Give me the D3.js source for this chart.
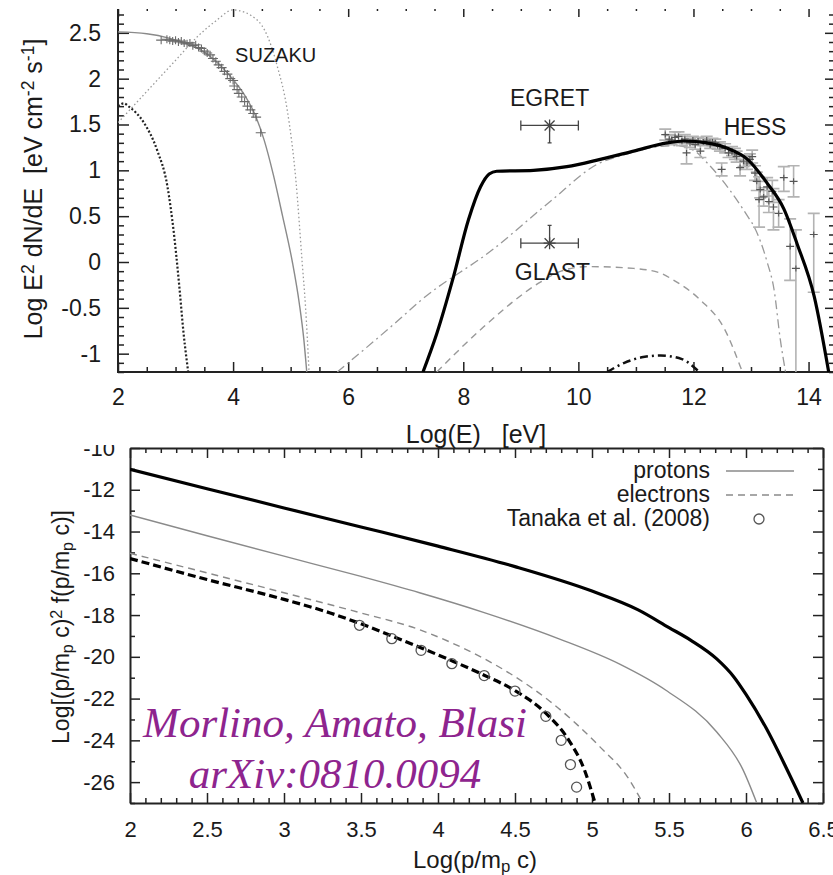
<!DOCTYPE html>
<html>
<head>
<meta charset="utf-8">
<script src="https://cdn.jsdelivr.net/npm/d3@7"></script>
<style>
body { margin: 0; background: #fff; }
svg { display: block; }
text { font-family: "Liberation Sans", Arial, Helvetica, sans-serif; fill: #1a1a1a; }
</style>
</head>
<body>
<svg id="chart" width="833" height="875"></svg>
<script>
//////////////////// Data: top panel (Log E vs Log E^2 dN/dE) ////////////////////

// synchrotron, thin gray solid
var syncE = [2, 2.5, 2.9, 3.2, 3.5, 3.8, 4.0, 4.2, 4.4, 4.54, 4.7, 4.86, 5.03, 5.15, 5.23, 5.28];
var syncF = [2.51, 2.49, 2.44, 2.38, 2.29, 2.13, 1.99, 1.82, 1.58, 1.33, 0.95, 0.5, 0, -0.45, -0.85, -1.2];
// light gray dotted bump
var hiDotE = [2, 2.5, 3, 3.4, 3.7, 4.0, 4.4, 4.6, 4.77, 4.94, 5.09, 5.2, 5.26, 5.32];
var hiDotF = [1.52, 1.86, 2.2, 2.47, 2.63, 2.75, 2.65, 2.46, 2.13, 1.66, 0.9, 0, -0.5, -1.2];
// dark dotted bump
var loDotE = [2, 2.1, 2.2, 2.45, 2.68, 2.86, 2.97, 3.06, 3.14, 3.22];
var loDotF = [1.70, 1.73, 1.69, 1.52, 1.22, 0.82, 0.32, -0.23, -0.78, -1.2];
// total gamma, thick black
var totE = [7.3, 7.54, 7.83, 8.09, 8.3, 8.45, 8.58, 9.22, 9.8, 10.38, 10.96, 11.54, 11.83, 12.24, 12.59, 12.94, 13.28, 13.57, 13.8, 14.1, 14.35];
var totF = [-1.2, -0.78, -0.16, 0.46, 0.82, 0.96, 0.99, 1.0, 1.04, 1.12, 1.21, 1.3, 1.32, 1.3, 1.24, 1.12, 0.86, 0.58, 0.2, -0.38, -1.2];
// gray dash-dot
var icE = [5.81, 6.9, 7.26, 8.5, 9.51, 10.37, 10.8, 11.3, 11.7, 12.0, 12.24, 12.59, 12.94, 13.05, 13.28, 13.4, 13.51, 13.6];
var icF = [-1.2, -0.62, -0.42, 0.13, 0.66, 1.08, 1.17, 1.25, 1.27, 1.22, 1.08, 0.82, 0.5, 0.39, 0.0, -0.3, -0.85, -1.2];
// gray dashed
var pionE = [7.54, 8.35, 9.34, 9.7, 10.15, 10.96, 11.42, 11.66, 12.13, 12.53, 12.85];
var pionF = [-1.2, -0.71, -0.22, -0.1, -0.05, -0.07, -0.12, -0.2, -0.42, -0.72, -1.2];
// black dash-dot hump
var humpE = [10.5, 10.8, 11.1, 11.43, 11.8, 12.1];
var humpF = [-1.2, -1.1, -1.04, -1.02, -1.06, -1.2];

// SUZAKU points
var suzE = [2.75, 2.85, 2.9, 2.95, 3.0, 3.05, 3.1, 3.15, 3.2, 3.25, 3.3, 3.35, 3.4, 3.45, 3.5, 3.55, 3.6, 3.65, 3.7, 3.75, 3.8, 3.85, 3.9, 3.95, 4.0, 4.02, 4.07, 4.1, 4.15, 4.2, 4.25, 4.3, 4.35, 4.4, 4.48];
var suzF = [2.42, 2.43, 2.42, 2.41, 2.42, 2.40, 2.41, 2.39, 2.38, 2.39, 2.36, 2.37, 2.34, 2.33, 2.30, 2.28, 2.26, 2.22, 2.19, 2.15, 2.12, 2.08, 2.05, 2.0, 1.98, 1.92, 1.88, 1.84, 1.80, 1.75, 1.70, 1.66, 1.62, 1.58, 1.41];

// HESS points with errors
var hessE = [11.51, 11.58, 11.62, 11.68, 11.74, 11.8, 11.85, 11.88, 11.94, 11.99, 12.03, 12.08, 12.12, 12.17, 12.23, 12.29, 12.33, 12.38, 12.42, 12.46, 12.49, 12.55, 12.61, 12.67, 12.72, 12.75, 12.81, 12.87, 12.93, 12.98, 13.02, 13.07, 13.1, 13.14, 13.16, 13.22, 13.28, 13.31, 13.37, 13.39, 13.48, 13.57, 13.68, 13.74, 13.78, 14.09];
var hessF = [1.39, 1.34, 1.33, 1.36, 1.37, 1.32, 1.34, 1.19, 1.30, 1.33, 1.28, 1.32, 1.21, 1.31, 1.33, 1.28, 1.31, 1.30, 1.27, 1.26, 1.01, 1.24, 1.19, 1.21, 1.18, 1.15, 1.03, 1.10, 1.08, 1.12, 1.15, 0.97, 0.88, 0.68, 0.79, 0.71, 0.82, 0.66, 0.77, 0.6, 0.53, 0.92, 0.17, 0.88, -0.07, 0.30];
var hessUp = [0.06, 0.05, 0.05, 0.06, 0.05, 0.05, 0.05, 0.12, 0.05, 0.04, 0.05, 0.04, 0.07, 0.04, 0.04, 0.04, 0.04, 0.04, 0.04, 0.05, 0.07, 0.05, 0.05, 0.05, 0.06, 0.06, 0.09, 0.06, 0.07, 0.06, 0.07, 0.08, 0.1, 0.25, 0.09, 0.1, 0.1, 0.12, 0.12, 0.2, 0.15, 0.12, 0.3, 0.17, 0.42, 0.23];
var hessDn = [0.06, 0.05, 0.05, 0.06, 0.05, 0.05, 0.05, 0.12, 0.05, 0.04, 0.05, 0.04, 0.07, 0.04, 0.04, 0.04, 0.04, 0.04, 0.04, 0.05, 0.07, 0.05, 0.05, 0.05, 0.06, 0.06, 0.09, 0.06, 0.07, 0.06, 0.07, 0.08, 0.1, 0.3, 0.09, 0.1, 0.1, 0.12, 0.12, 0.25, 0.15, 0.15, 0.37, 0.17, 1.3, 0.63];

// EGRET and GLAST
var satNames = ["EGRET", "GLAST"];
var satE = [9.5, 9.5];
var satF = [1.49, 0.205];
var satLo = [9.0, 9.0];
var satHi = [10.0, 10.0];
var satTail = [1.30, 0.40];

var topLabels = [["SUZAKU", 4.74, 2.18, 20], ["EGRET", 9.5, 1.7, 23], ["HESS", 13.07, 1.39, 23], ["GLAST", 9.55, -0.2, 23]];

//////////////////// Data: bottom panel (momentum spectra) ////////////////////

var pTotX = [2, 2.5, 3, 3.5, 4, 4.5, 5, 5.3, 5.5, 5.64, 5.81, 5.92, 6.0, 6.13, 6.26, 6.37];
var pTotY = [-11.02, -11.95, -12.87, -13.78, -14.7, -15.68, -16.85, -17.75, -18.6, -19.2, -20.1, -20.95, -21.8, -23.4, -25.3, -27];
var protX = [2, 2.5, 3, 3.5, 3.88, 4.3, 4.79, 5.18, 5.48, 5.81, 5.98, 6.07];
var protY = [-13.21, -14.2, -15.18, -16.15, -16.93, -17.88, -19.15, -20.35, -21.6, -23.6, -25.4, -27];
var elecX = [2, 2.5, 3, 3.5, 3.88, 4.08, 4.29, 4.5, 4.73, 5.05, 5.23, 5.33];
var elecY = [-15.04, -15.98, -16.93, -17.9, -18.7, -19.3, -20.05, -20.95, -22.15, -24.3, -25.75, -27];
var eTotX = [2, 2.5, 3, 3.3, 3.5, 3.7, 3.9, 4.1, 4.3, 4.5, 4.7, 4.85, 4.95, 5.02];
var eTotY = [-15.29, -16.3, -17.25, -17.9, -18.42, -19.0, -19.6, -20.22, -20.88, -21.62, -22.7, -24.0, -25.4, -27];
var tanX = [3.49, 3.7, 3.89, 4.09, 4.3, 4.5, 4.7, 4.8, 4.86, 4.9];
var tanY = [-18.49, -19.13, -19.69, -20.33, -20.9, -21.64, -22.85, -24.0, -25.16, -26.24];

var legendNames = ["protons", "electrons", "Tanaka et al. (2008)"];

///////////////////////////////////////////////////////////////

var svg = d3.select("#chart");
var GRAY = "#8a8a8a";

function zip(a, b) {
    return a.map(function(d, i) { return [d, b[i]]; });
}

//Text with sub/superscripts: parts = [[string, "sup"|"sub"|null], ...]
function richText(sel, parts) {
    parts.forEach(function(p) {
        var t = sel.append("tspan").text(p[0]);
        if (p[1] == "sup") {
            t.attr("baseline-shift", "45%").style("font-size", "70%");
        } else if (p[1] == "sub") {
            t.attr("baseline-shift", "-25%").style("font-size", "70%");
        }
    });
    return sel;
}

//Gnuplot-ish axis: majors with labels, minors without
function styleAxis(g) {
    g.selectAll(".domain").attr("stroke", "#222").attr("stroke-width", 2);
    g.selectAll(".tick line").attr("stroke", "#222").attr("stroke-width", 1.5);
    g.selectAll(".tick text").attr("fill", "#1a1a1a");
}

function drawAxis(g, axisFn, scale, majors, minors, major, minor, fmt, pad, font, keepDomain) {
    var a1 = g.append("g").call(axisFn(scale).tickValues(minors).tickSizeInner(-minor).tickSizeOuter(0).tickFormat(""));
    a1.select(".domain").remove();
    var a2 = g.append("g").call(axisFn(scale).tickValues(majors).tickSizeInner(-major).tickSizeOuter(0)
        .tickPadding(pad).tickFormat(fmt || ""));
    a2.style("font-size", font + "px").attr("font-family", null);
    if (!keepDomain) a2.select(".domain").remove();
    styleAxis(a1);
    styleAxis(a2);
    return a2;
}

//////////////////// Bottom panel ////////////////////

var bx = d3.scaleLinear().domain([2, 6.5]).range([130, 823]);
var by = d3.scaleLinear().domain([-27, -10]).range([803, 448]);

var bottom = svg.append("g");
bottom.append("clipPath").attr("id", "clipB")
    .append("rect").attr("x", 130).attr("y", 448).attr("width", 693).attr("height", 355);

var bxMaj = d3.range(4, 14).map(d => d / 2);
var bxMin = d3.range(20, 66).map(d => d / 10).filter(d => Math.abs(d * 2 - Math.round(d * 2)) > 1e-6);
var byMaj = d3.range(-26, -9, 2);
var byMin = d3.range(-27, -9).filter(d => d % 2 != 0);

var fmtB = function(d) { return d % 1 == 0 ? d3.format("d")(d) : d3.format(".1f")(d); };
var fmtNeg = function(d) { return String(d); };

drawAxis(bottom.append("g").attr("transform", "translate(0,803)"), d3.axisBottom, bx, bxMaj, bxMin, 10, 5, fmtB, 18, 22, true);
drawAxis(bottom.append("g").attr("transform", "translate(0,448)"), d3.axisTop, bx, bxMaj, bxMin, 10, 5, null, 0, 22, true);
drawAxis(bottom.append("g").attr("transform", "translate(130,0)"), d3.axisLeft, by, byMaj, byMin, 10, 5, fmtNeg, 15, 22, true);
drawAxis(bottom.append("g").attr("transform", "translate(823,0)"), d3.axisRight, by, byMaj, byMin, 10, 5, null, 0, 22, true);

var bline = d3.line().x(d => bx(d[0])).y(d => by(d[1])).curve(d3.curveMonotoneX);
var bcurves = bottom.append("g").attr("clip-path", "url(#clipB)");

bcurves.append("path").datum(zip(protX, protY)).attr("d", bline)
    .attr("fill", "none").attr("stroke", GRAY).attr("stroke-width", 1.4);
bcurves.append("path").datum(zip(elecX, elecY)).attr("d", bline)
    .attr("fill", "none").attr("stroke", GRAY).attr("stroke-width", 1.4).attr("stroke-dasharray", "7,5");
bcurves.append("path").datum(zip(pTotX, pTotY)).attr("d", bline)
    .attr("fill", "none").attr("stroke", "#000").attr("stroke-width", 3.2);
bcurves.append("path").datum(zip(eTotX, eTotY)).attr("d", bline)
    .attr("fill", "none").attr("stroke", "#000").attr("stroke-width", 3.2).attr("stroke-dasharray", "8,4");

bcurves.selectAll("circle.tan").data(zip(tanX, tanY)).enter().append("circle")
    .attr("class", "tan")
    .attr("cx", d => bx(d[0])).attr("cy", d => by(d[1])).attr("r", 5)
    .attr("fill", "none").attr("stroke", "#555").attr("stroke-width", 1.3);

//Legend
var leg = bottom.append("g");
legendNames.forEach(function(name, i) {
    var yy = 471 + i * 24;
    leg.append("text").attr("x", 710).attr("y", yy + 7).attr("text-anchor", "end")
        .style("font-size", "23px").text(name);
    if (i == 0) {
        leg.append("line").attr("x1", 726).attr("x2", 794).attr("y1", yy).attr("y2", yy)
            .attr("stroke", GRAY).attr("stroke-width", 1.4);
    } else if (i == 1) {
        leg.append("line").attr("x1", 726).attr("x2", 794).attr("y1", yy).attr("y2", yy)
            .attr("stroke", GRAY).attr("stroke-width", 1.4).attr("stroke-dasharray", "7,5");
    } else {
        leg.append("circle").attr("cx", 759).attr("cy", yy).attr("r", 5)
            .attr("fill", "none").attr("stroke", "#555").attr("stroke-width", 1.3);
    }
});

//Axis labels
richText(bottom.append("text").attr("x", 475).attr("y", 868).attr("text-anchor", "middle").style("font-size", "24px"),
    [["Log(p/m", null], ["p", "sub"], [" c)", null]]);
richText(bottom.append("text").attr("transform", "translate(69,627) rotate(-90)").attr("text-anchor", "middle").style("font-size", "23px"),
    [["Log[(p/m", null], ["p", "sub"], [" c)", null], ["2", "sup"], [" f(p/m", null], ["p", "sub"], [" c)]", null]]);

//Credit
var credit = bottom.append("g").style("font-family", "'Liberation Serif', 'Times New Roman', serif")
    .style("font-style", "italic").style("font-size", "43px");
credit.append("text").attr("x", 335).attr("y", 737).attr("text-anchor", "middle")
    .style("fill", "#8e248e").style("font-family", "inherit").text("Morlino, Amato, Blasi");
credit.append("text").attr("x", 335).attr("y", 788).attr("text-anchor", "middle")
    .style("fill", "#8e248e").style("font-family", "inherit").text("arXiv:0810.0094");

//////////////////// Top panel ////////////////////

svg.append("rect").attr("x", 0).attr("y", 0).attr("width", 833).attr("height", 445).attr("fill", "#fff");

var tx = d3.scaleLinear().domain([2, 14.39]).range([118, 831]);
var ty = d3.scaleLinear().domain([-1.2, 2.76]).range([372, 9]);

var top_ = svg.append("g");
top_.append("clipPath").attr("id", "clipT")
    .append("rect").attr("x", 118).attr("y", 9).attr("width", 715).attr("height", 363);

var txMaj = d3.range(2, 15, 2);
var txMin = d3.range(4, 29).map(d => d / 2).filter(d => d % 2 != 0);
var tyMaj = d3.range(-2, 6).map(d => d / 2);
var tyMin = d3.range(-12, 28).filter(d => d % 5 != 0).map(d => d / 10);

var fmtT = function(d) { return String(d); };

drawAxis(top_.append("g").attr("transform", "translate(0,372)"), d3.axisBottom, tx, txMaj, txMin, 10, 5, fmtT, 17, 23, false);
drawAxis(top_.append("g").attr("transform", "translate(0,9)"), d3.axisTop, tx, txMaj, txMin, 8, 2, null, 0, 23, false);
drawAxis(top_.append("g").attr("transform", "translate(118,0)"), d3.axisLeft, ty, tyMaj, tyMin, 11, 6, fmtT, 17, 23, false);
drawAxis(top_.append("g").attr("transform", "translate(833,0)"), d3.axisRight, ty, tyMaj, tyMin, 8, 4, null, 0, 23, false);

top_.append("line").attr("x1", 117).attr("x2", 833).attr("y1", 372).attr("y2", 372)
    .attr("stroke", "#222").attr("stroke-width", 2);
top_.append("line").attr("x1", 118).attr("x2", 118).attr("y1", 9).attr("y2", 373)
    .attr("stroke", "#222").attr("stroke-width", 2);

var tline = d3.line().x(d => tx(d[0])).y(d => ty(d[1])).curve(d3.curveMonotoneX);
var tcurves = top_.append("g").attr("clip-path", "url(#clipT)");

tcurves.append("path").datum(zip(hiDotE, hiDotF)).attr("d", tline)
    .attr("fill", "none").attr("stroke", "#9a9a9a").attr("stroke-width", 1.3).attr("stroke-dasharray", "1.5,2.5");
tcurves.append("path").datum(zip(loDotE, loDotF)).attr("d", tline)
    .attr("fill", "none").attr("stroke", "#222").attr("stroke-width", 2.2).attr("stroke-dasharray", "2,2");
tcurves.append("path").datum(zip(syncE, syncF)).attr("d", tline)
    .attr("fill", "none").attr("stroke", GRAY).attr("stroke-width", 1.4);
tcurves.append("path").datum(zip(icE, icF)).attr("d", tline)
    .attr("fill", "none").attr("stroke", "#999").attr("stroke-width", 1.3).attr("stroke-dasharray", "9,4,2,4");
tcurves.append("path").datum(zip(pionE, pionF)).attr("d", tline)
    .attr("fill", "none").attr("stroke", "#999").attr("stroke-width", 1.4).attr("stroke-dasharray", "7,5");
tcurves.append("path").datum(zip(humpE, humpF)).attr("d", tline)
    .attr("fill", "none").attr("stroke", "#111").attr("stroke-width", 2.5).attr("stroke-dasharray", "8,4,2,4");

//SUZAKU crosses
tcurves.selectAll("path.suz").data(zip(suzE, suzF)).enter().append("path")
    .attr("class", "suz")
    .attr("d", function(d) {
        var px = tx(d[0]), py = ty(d[1]);
        return "M" + (px - 5) + "," + py + "H" + (px + 5) + "M" + px + "," + (py - 4) + "V" + (py + 4);
    })
    .attr("stroke", "#6a6a6a").attr("stroke-width", 1.1).attr("fill", "none");

//HESS error bars and points
var hess = hessE.map(function(e, i) { return {e: e, f: hessF[i], up: hessUp[i], dn: hessDn[i]}; });
var hg = tcurves.append("g");
hg.selectAll("path.bar").data(hess).enter().append("path")
    .attr("class", "bar")
    .attr("d", function(d) {
        var px = tx(d.e), y1 = ty(d.f + d.up), y2 = ty(d.f - d.dn);
        return "M" + px + "," + y1 + "V" + y2 + "M" + (px - 6) + "," + y1 + "H" + (px + 6) + "M" + (px - 6) + "," + y2 + "H" + (px + 6);
    })
    .attr("stroke", "#b3b3b3").attr("stroke-width", 1.6).attr("fill", "none");
hg.selectAll("path.pt").data(hess).enter().append("path")
    .attr("class", "pt")
    .attr("d", function(d) {
        var px = tx(d.e), py = ty(d.f);
        return "M" + (px - 4) + "," + py + "H" + (px + 4) + "M" + px + "," + (py - 3) + "V" + (py + 3);
    })
    .attr("stroke", "#555").attr("stroke-width", 1.1).attr("fill", "none");

//Total (thick black) on top
tcurves.append("path").datum(zip(totE, totF)).attr("d", tline)
    .attr("fill", "none").attr("stroke", "#000").attr("stroke-width", 3.2);

//EGRET / GLAST
satNames.forEach(function(n, i) {
    var g = top_.append("g").attr("stroke", "#444").attr("stroke-width", 1.3).attr("fill", "none");
    var cx = tx(satE[i]), cy = ty(satF[i]);
    var x1 = tx(satLo[i]), x2 = tx(satHi[i]);
    g.append("path").attr("d", "M" + x1 + "," + cy + "H" + x2 + "M" + x1 + "," + (cy - 5) + "V" + (cy + 5) + "M" + x2 + "," + (cy - 5) + "V" + (cy + 5));
    g.append("path").attr("d", "M" + (cx - 6) + "," + cy + "H" + (cx + 6) + "M" + cx + "," + (cy - 6) + "V" + (cy + 6) +
        "M" + (cx - 5) + "," + (cy - 5) + "L" + (cx + 5) + "," + (cy + 5) + "M" + (cx - 5) + "," + (cy + 5) + "L" + (cx + 5) + "," + (cy - 5));
    var ty2 = ty(satTail[i]);
    g.append("path").attr("d", "M" + cx + "," + cy + "V" + ty2 + "M" + (cx - 2) + "," + ty2 + "H" + (cx + 2));
});

//Labels
topLabels.forEach(function(l) {
    top_.append("text").attr("x", tx(l[1])).attr("y", ty(l[2])).attr("text-anchor", "middle")
        .style("font-size", l[3] + "px").text(l[0]);
});

top_.append("text").attr("x", 476).attr("y", 443).attr("text-anchor", "middle")
    .style("font-size", "25px").style("white-space", "pre").text("Log(E)   [eV]");
richText(top_.append("text").attr("transform", "translate(42,189) rotate(-90)").attr("text-anchor", "middle")
    .style("font-size", "25px").style("white-space", "pre"),
    [["Log E", null], ["2", "sup"], [" dN/dE  [eV cm", null], ["-2", "sup"], [" s", null], ["-1", "sup"], ["]", null]]);
</script>
</body>
</html>
